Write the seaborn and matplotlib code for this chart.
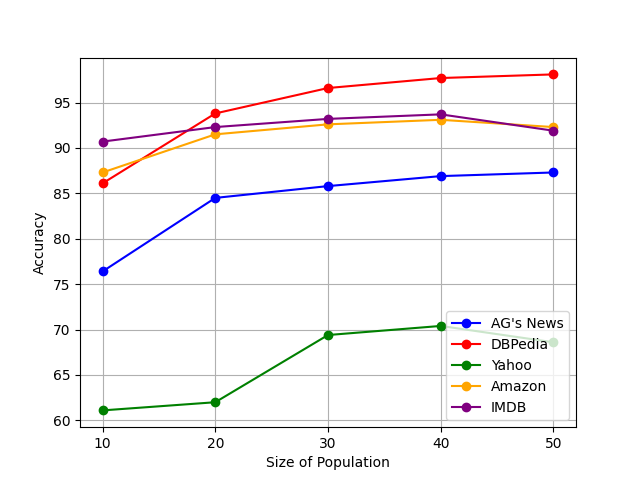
import pandas as pd
import matplotlib
matplotlib.use("Agg")
import matplotlib.pyplot as plt
import seaborn as sns

population = [10, 20, 30, 40, 50]
ag_news = [76.4, 84.5, 85.8, 86.9, 87.3]
dbpedia = [86.1, 93.8, 96.6, 97.7, 98.1]
yahoo = [61.1, 62.0, 69.4, 70.4, 68.6]
amazon = [87.3, 91.5, 92.6, 93.1, 92.3]
imdb = [90.7, 92.3, 93.2, 93.7, 91.9]

series = {
    "AG's News": (ag_news, "blue"),
    "DBPedia": (dbpedia, "red"),
    "Yahoo": (yahoo, "green"),
    "Amazon": (amazon, "orange"),
    "IMDB": (imdb, "purple"),
}

fig, ax = plt.subplots(figsize=(6.4, 4.8), dpi=100)
for name, (vals, col) in series.items():
    df = pd.DataFrame({"pop": population, "acc": vals})
    sns.lineplot(data=df, x="pop", y="acc", color=col, marker="o",
                 markeredgecolor=col, markeredgewidth=1, markersize=6,
                 linewidth=1.5, label=name, ax=ax)

ax.set_xlabel("Size of Population")
ax.set_ylabel("Accuracy")
ax.set_xticks(population)
ax.grid(True)
ax.legend(loc="lower right")
plt.savefig("out.png", dpi=100)
